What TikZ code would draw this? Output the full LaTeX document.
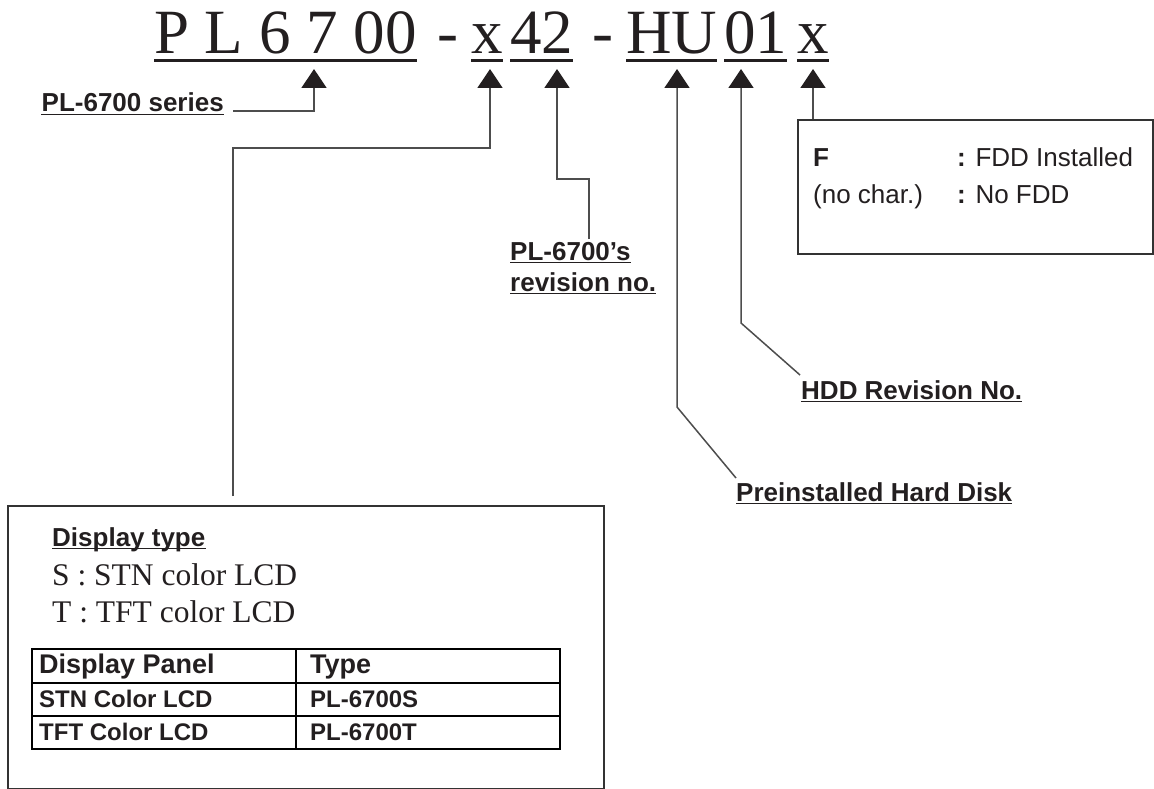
\documentclass[tikz,border=0pt]{standalone}
\usepackage{fontspec}
\setmainfont{Liberation Serif}
\setsansfont{Liberation Sans}
\usetikzlibrary{arrows.meta}
\definecolor{ink}{HTML}{231F20}
\definecolor{wire}{HTML}{4D4D4D}
\definecolor{frame}{HTML}{333333}
\begin{document}
\begin{tikzpicture}[x=1pt,y=-1pt,
  ttl/.style={font=\fontsize{63}{63}\selectfont, inner sep=0pt, anchor=base west, text=ink},
  lbl/.style={font=\sffamily\bfseries\fontsize{26}{30}\selectfont, inner sep=0pt, anchor=base west, text=ink},
  txt/.style={font=\sffamily\fontsize{26}{30}\selectfont, inner sep=0pt, anchor=base west, text=ink},
  serif/.style={font=\fontsize{31.5}{36}\selectfont, inner sep=0pt, anchor=base west, text=ink},
  cell/.style={font=\sffamily\bfseries\fontsize{24}{28}\selectfont, inner sep=0pt, anchor=base west, text=ink},
  head/.style={font=\sffamily\bfseries\fontsize{27}{30}\selectfont, inner sep=0pt, anchor=base west, text=ink},
  ulT/.style={line width=2.5pt, ink},
  ulL/.style={line width=1.8pt, ink},
  conn/.style={line width=1.5pt, wire, -{Triangle[length=19pt,width=25pt,color=ink]}},
  wirel/.style={line width=1.5pt, wire},
  frm/.style={draw=frame, line width=2pt, inner sep=0pt, anchor=north west},
  tbl/.style={line width=2.5pt, black}
]
\useasboundingbox (0,0) rectangle (1154,789);

% ---- title ----
\node[ttl] (s1) at (154,54) {P L 6 7 00};
\node[ttl] (s2) at (437,54) {-};
\node[ttl] (s3) at (471,54) {x};
\node[ttl] (s4) at (510,54) {42};
\node[ttl] (s5) at (592,54) {-};
\node[ttl] (s6) at (626,54) {HU};
\node[ttl] (s7) at (724,54) {01};
\node[ttl] (s8) at (797,54) {x};
\foreach \n in {s1,s3,s4,s6,s7,s8}
  \draw[ulT] ([yshift=-6.5pt]\n.base west) -- ([yshift=-6.5pt]\n.base east);

% ---- arrow tips ----
\coordinate (t1) at (314,69);
\coordinate (t2) at (490,69);
\coordinate (t3) at (557,69);
\coordinate (t4) at (677,69);
\coordinate (t5) at (741,69);
\coordinate (t6) at (813,69);

% ---- labels ----
\node[lbl, anchor=base east] (series) at (224,112) {PL-6700 series};
\node[lbl] (rev1) at (510,260) {PL-6700’s};
\node[lbl] (rev2) at (510,291) {revision no.};
\node[lbl] (hdd) at (801,399) {HDD Revision No.};
\node[lbl] (phd) at (736,501) {Preinstalled Hard Disk};
\foreach \n in {series,rev1,rev2,hdd,phd}
  \draw[ulL] ([yshift=-2.5pt]\n.base west) -- ([yshift=-2.5pt]\n.base east);

% ---- FDD box ----
\node[frm, minimum width=355pt, minimum height=134pt] (fdd) at (797,119) {};
\node[lbl] (fF) at (813,167) {F};
\node[txt] (fI) at (957,167) {\textbf{:} FDD Installed};
\node[txt] (fN) at (813,203) {(no char.)};
\node[txt] (fNo) at (957,203) {\textbf{:} No FDD};

% ---- Display box ----
\node[frm, minimum width=596pt, minimum height=283pt] (dbox) at (7,505) {};
\node[lbl] (dtype) at (52,546) {Display type};
\draw[ulL] ([yshift=-2.5pt]dtype.base west) -- ([yshift=-2.5pt]dtype.base east);
\node[serif] (dS) at (52,585) {S : STN color LCD};
\node[serif] (dT) at (52,622) {T : TFT color LCD};

% table
\draw[tbl] (32,649) rectangle (560,749);
\draw[tbl] (32,683) -- (560,683);
\draw[tbl] (32,716) -- (560,716);
\draw[tbl] (296,649) -- (296,749);
\node[head] (h1) at (39,673) {Display Panel};
\node[head] (h2) at (310,673) {Type};
\node[cell] (r11) at (39,707) {STN Color LCD};
\node[cell] (r12) at (310,707) {PL-6700S};
\node[cell] (r21) at (39,740) {TFT Color LCD};
\node[cell] (r22) at (310,740) {PL-6700T};

% ---- connectors ----
\coordinate (a0) at (233,111);
\draw[conn] (a0) -| (t1);

\coordinate (b0) at (233,496);
\coordinate (b1) at (233,148);
\draw[conn] (b0) -- (b1) -| (t2);

\coordinate (c0) at (589,239);
\coordinate (c1) at (589,179);
\draw[conn] (c0) -- (c1) -| (t3);

\coordinate (d0) at (736,478);
\coordinate (d1) at (677,407);
\draw[conn] (d0) -- (d1) -- (t4);

\coordinate (e0) at (800,375);
\coordinate (e1) at (741,323);
\draw[conn] (e0) -- (e1) -- (t5);

\draw[conn] (fdd.north west -| t6) -- (t6);
\end{tikzpicture}
\end{document}
